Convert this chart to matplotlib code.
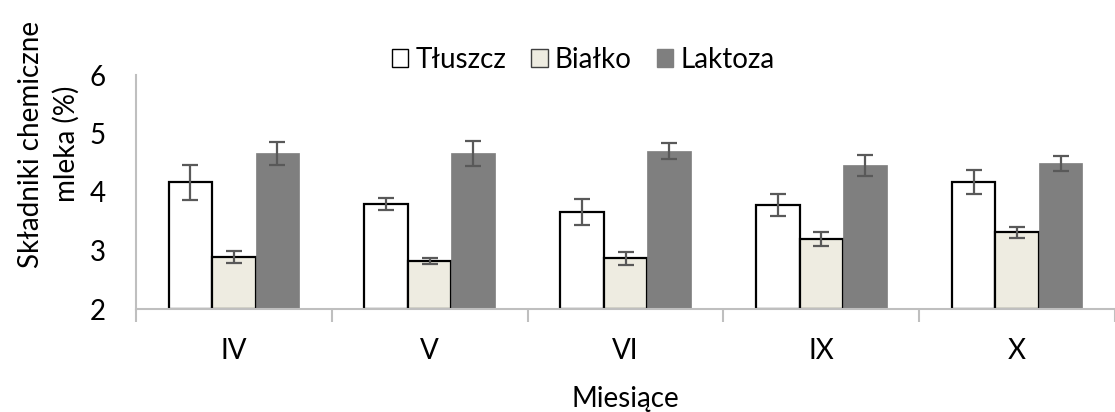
import matplotlib
matplotlib.use("Agg")
import matplotlib.pyplot as plt
import numpy as np
from matplotlib.patches import Patch

plt.rcParams["font.family"] = ["Lato", "DejaVu Sans"]

months = ["IV", "V", "VI", "IX", "X"]
series = ["Tłuszcz", "Białko", "Laktoza"]

fat = [4.17, 3.79, 3.66, 3.78, 4.17]
fat_err = [0.30, 0.10, 0.22, 0.19, 0.20]
protein = [2.89, 2.82, 2.87, 3.20, 3.31]
protein_err = [0.10, 0.05, 0.11, 0.12, 0.09]
lactose = [4.66, 4.66, 4.70, 4.46, 4.49]
lactose_err = [0.19, 0.22, 0.14, 0.18, 0.13]

W, H = 1115, 412
FS = 20
fig = plt.figure(figsize=(W / 100, H / 100), dpi=100)
# axes box in pixels: left 136, right 1115, bottom 309, top 75
ax = fig.add_axes([136 / W, 1 - 309 / H, (W - 136) / W, (309 - 75) / H])

x = np.arange(len(months))
bw = 0.222
styles = [
    (fat, fat_err, "white", "black", 1.6),
    (protein, protein_err, "#EEECE1", "black", 1.6),
    (lactose, lactose_err, "#7F7F7F", "#7F7F7F", 0.5),
]
for i, (vals, err, fc, ec, lw) in enumerate(styles):
    xs = x + (i - 1) * bw
    ax.bar(xs, np.array(vals) - 2, bottom=2, width=bw, color=fc,
           edgecolor=ec, linewidth=lw, zorder=2)
    ax.errorbar(xs, vals, yerr=err, fmt="none", ecolor="#595959",
                elinewidth=1.6, capsize=5.5, capthick=1.6, zorder=3)

ax.set_ylim(2, 6)
ax.set_yticks([2, 3, 4, 5, 6])
ax.set_xlim(-0.5, -0.5 + (W - 136) / 197.3)

# category labels at centers, tick marks at boundaries
ax.set_xticks(x)
ax.set_xticklabels(months, fontsize=FS)
ax.set_xticks(np.arange(-0.5, 5, 1), minor=True)
ax.tick_params(axis="x", which="major", length=0, pad=21)
ax.tick_params(axis="x", which="minor", length=9, width=1.5,
               color="#BFBFBF", direction="out")
ax.tick_params(axis="y", length=0, labelsize=FS, pad=22)

for s in ("top", "right"):
    ax.spines[s].set_visible(False)
for s in ("left", "bottom"):
    ax.spines[s].set_color("#BFBFBF")
    ax.spines[s].set_linewidth(1.5)

ax.set_ylabel("Składniki chemiczne\nmleka (%)", fontsize=FS,
              linespacing=1.4)
ax.yaxis.set_label_coords(-56 / (W - 136), 0.705)
ax.set_xlabel("Miesiące", fontsize=FS, labelpad=16)

handles = [
    Patch(facecolor="white", edgecolor="black", linewidth=1.0),
    Patch(facecolor="#EEECE1", edgecolor="#404040", linewidth=1.0),
    Patch(facecolor="#7F7F7F", edgecolor="#7F7F7F"),
]
fig.legend(handles, series, loc="center", bbox_to_anchor=(583 / W, 1 - 60 / H),
           ncol=3, frameon=False, fontsize=FS, handlelength=0.6,
           handleheight=0.6, handletextpad=0.25, columnspacing=0.9)

fig.savefig("out.png", dpi=100)
